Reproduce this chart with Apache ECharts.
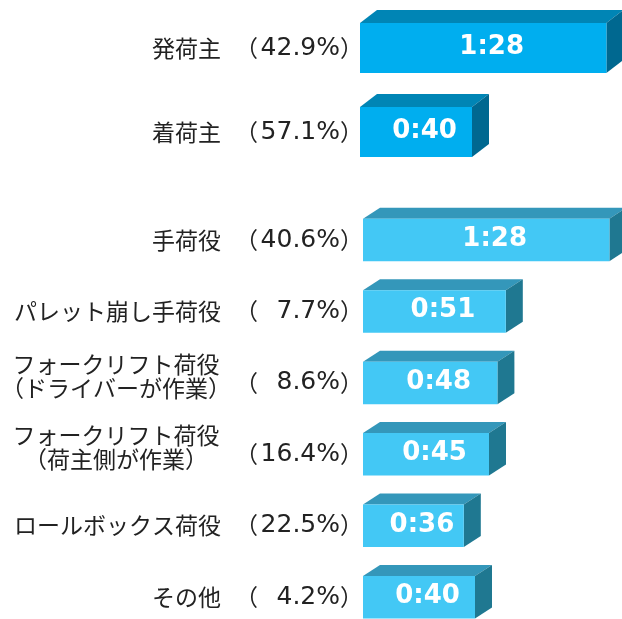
<!DOCTYPE html>
<html><head><meta charset="utf-8">
<script src="https://cdn.jsdelivr.net/npm/echarts@6/dist/echarts.min.js"></script>
<style>html,body{margin:0;padding:0;background:#fff}#c{width:622px;height:619px}</style>
</head><body><div id="c"></div>
<script>
const categoriesA = ['発荷主', '着荷主'];
const percentsA = ['42.9%', '57.1%'];
const minutesA = [88, 40];

const categoriesB = ['手荷役', 'パレット崩し手荷役', 'フォークリフト荷役\n（ドライバーが作業）', 'フォークリフト荷役\n（荷主側が作業）', 'ロールボックス荷役', 'その他'];
const percentsB = ['40.6%', '7.7%', '8.6%', '16.4%', '22.5%', '4.2%'];
const minutesB = [88, 51, 48, 45, 36, 40];

const FONT = '"Noto Sans CJK JP", "Noto Sans", sans-serif';
const NUMFONT = '"DejaVu Sans", "Noto Sans CJK JP", sans-serif';
const TXT = '#222';

function fmtTime(m) { return Math.floor(m / 60) + ':' + String(m % 60).padStart(2, '0'); }

function makeRender(colors, dx, dy) {
  return function (params, api) {
    const v = api.value(0), ci = api.value(1);
    const p0 = api.coord([0, ci]), p1 = api.coord([v, ci]);
    const h = api.size([0, 1])[1] * 0.595;
    const x0 = p0[0], x1 = p1[0], y0 = p0[1] - h / 2, y1 = p0[1] + h / 2;
    return {
      type: 'group',
      children: [
        { type: 'polygon', shape: { points: [[x0, y0], [x0 + dx, y0 - dy], [x1 + dx, y0 - dy], [x1, y0]] }, style: { fill: colors[1] } },
        { type: 'polygon', shape: { points: [[x1, y0], [x1 + dx, y0 - dy], [x1 + dx, y1 - dy], [x1, y1]] }, style: { fill: colors[2] } },
        { type: 'rect', shape: { x: x0, y: y0, width: x1 - x0, height: h }, style: { fill: colors[0] } },
        { type: 'text', style: { text: fmtTime(v), x: (x0 + x1 + dx) / 2, y: p0[1] - 1, align: 'center', verticalAlign: 'middle', fill: '#fff', font: 'bold 26px "DejaVu Sans", sans-serif' } }
      ]
    };
  };
}

function nameAxis(gi, cats, offset) {
  return {
    type: 'category', gridIndex: gi, data: cats, inverse: true, position: 'left', offset: offset,
    axisLine: { show: false }, axisTick: { show: false }, splitLine: { show: false },
    axisLabel: {
      margin: 3, align: 'right', color: TXT, fontFamily: FONT, fontSize: 23,
      formatter: function (v) { return v.indexOf('\n') >= 0 ? '{m|' + v + '}' : '{s|' + v + '}'; },
      rich: {
        s: { fontFamily: FONT, fontSize: 23, color: TXT },
        m: { fontFamily: FONT, fontSize: 23, color: TXT, width: 210, align: 'center', lineHeight: 24, padding: [0, 0, 14, 0] }
      }
    }
  };
}

function pctAxis(gi, cats, pcts, margin) {
  return {
    type: 'category', gridIndex: gi, data: cats, inverse: true, position: 'left', offset: 0,
    axisLine: { show: false }, axisTick: { show: false }, splitLine: { show: false },
    axisLabel: {
      margin: margin, align: 'right', color: TXT, fontFamily: NUMFONT, fontSize: 25,
      formatter: function (v, i) { return '{o|（}{v|' + pcts[i] + '}{c|）}'; },
      rich: {
        o: { fontFamily: FONT, fontSize: 23, color: TXT },
        v: { fontFamily: NUMFONT, fontSize: 25, color: TXT, width: 82, align: 'right' },
        c: { fontFamily: FONT, fontSize: 23, color: TXT }
      }
    }
  };
}

const chart = echarts.init(document.getElementById('c'), null, { renderer: 'canvas' });
chart.setOption({
  backgroundColor: '#fff',
  animation: false,
  grid: [
    { left: 360, top: 6, width: 252, height: 168, outerBoundsMode: 'none' },
    { left: 363, top: 204.3, width: 252, height: 428.6, outerBoundsMode: 'none' }
  ],
  xAxis: [
    { type: 'value', gridIndex: 0, min: 0, max: 90, show: false },
    { type: 'value', gridIndex: 1, min: 0, max: 90, show: false }
  ],
  yAxis: [
    pctAxis(0, categoriesA, percentsA, -3),
    nameAxis(0, categoriesA, 136),
    pctAxis(1, categoriesB, percentsB, 0),
    nameAxis(1, categoriesB, 139)
  ],
  series: [
    { type: 'custom', xAxisIndex: 0, yAxisIndex: 0, encode: { x: 0, y: 1 },
      renderItem: makeRender(['#00AEEF', '#0085B5', '#006890'], 17, 13),
      data: minutesA.map((v, i) => [v, i]) },
    { type: 'custom', xAxisIndex: 1, yAxisIndex: 2, encode: { x: 0, y: 1 },
      renderItem: makeRender(['#43C8F5', '#3497BA', '#1F7891'], 17, 11),
      data: minutesB.map((v, i) => [v, i]) }
  ]
});
</script></body></html>
